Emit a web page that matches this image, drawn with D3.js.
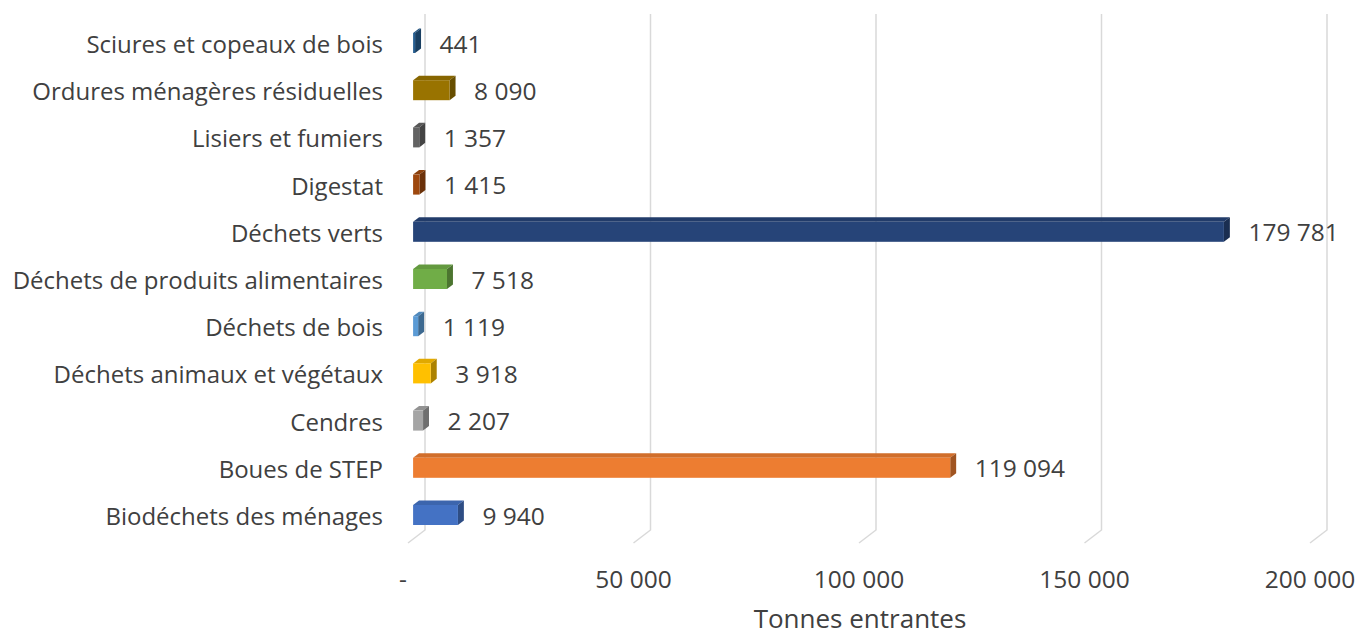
<!DOCTYPE html>
<html>
<head>
<meta charset="utf-8">
<script src="https://cdn.jsdelivr.net/npm/d3@7"></script>
<style>
  html, body { margin: 0; padding: 0; background: #ffffff; }
  svg { display: block; }
  text { font-family: "Open Sans", "Noto Sans", sans-serif; fill: #404040; }
</style>
</head>
<body>
<svg id="chart" width="1359" height="637"></svg>
<script>
// ---------- data ----------
const categories = [
  "Biodéchets des ménages",
  "Boues de STEP",
  "Cendres",
  "Déchets animaux et végétaux",
  "Déchets de bois",
  "Déchets de produits alimentaires",
  "Déchets verts",
  "Digestat",
  "Lisiers et fumiers",
  "Ordures ménagères résiduelles",
  "Sciures et copeaux de bois"
];
const values = [9940, 119094, 2207, 3918, 1119, 7518, 179781, 1415, 1357, 8090, 441];
const barColors = ["#4472C4", "#ED7D31", "#A5A5A5", "#FFC000", "#5B9BD5", "#70AD47",
                   "#264478", "#9E480E", "#636363", "#997300", "#255E91"];
const tickValues = [0, 50000, 100000, 150000, 200000];
const tickLabels = ["-", "50 000", "100 000", "150 000", "200 000"];
const axisTitle = "Tonnes entrantes";

// ---------- layout ----------
const svg = d3.select("#chart");
const fr = d3.formatLocale({decimal: ",", thousands: "\u00a0", grouping: [3], currency: ["", ""]});
const fmt = fr.format(",d");

const wallTop = 14, wallBottom = 530;
const depthDX = -17, depthDY = 13;          // full floor depth (back -> front)
const tFront = 0.7, tBack = 0.35;           // bar depth position

const x = d3.scaleLinear().domain([0, 200000]).range([425, 1327]); // back wall
const y = d3.scaleBand()
  .domain(categories.slice().reverse())
  .range([20.4, 539.6])
  .paddingInner(0.58)
  .paddingOuter(0.29);

// ---------- gridlines (back wall + floor edge) ----------
const grid = svg.append("g");
grid.selectAll("path").data(tickValues).join("path")
  .attr("d", d => `M${x(d)},${wallTop} L${x(d)},${wallBottom} L${x(d) + depthDX},${wallBottom + depthDY}`)
  .attr("fill", "none")
  .attr("stroke", "#D9D9D9")
  .attr("stroke-width", 1.5);

// ---------- tick labels ----------
svg.append("g").selectAll("text").data(tickValues).join("text")
  .attr("x", d => x(d) + depthDX + (d === 0 ? -5 : 0))
  .attr("y", 588)
  .attr("text-anchor", "middle")
  .attr("font-size", 24.5)
  .text((d, i) => tickLabels[i]);

svg.append("text")
  .attr("x", 860)
  .attr("y", 628)
  .attr("text-anchor", "middle")
  .attr("font-size", 26)
  .text(axisTitle);

// ---------- category labels ----------
svg.append("g").selectAll("text").data(categories).join("text")
  .attr("x", 383)
  .attr("y", d => y(d) + y.bandwidth() / 2 + 9)
  .attr("text-anchor", "end")
  .attr("font-size", 24)
  .text(d => d);

// ---------- 3D bars ----------
const fdx = depthDX * tFront, fdy = depthDY * tFront;
const bdx = depthDX * tBack, bdy = depthDY * tBack;
const ox = bdx - fdx, oy = bdy - fdy; // offset front -> back face

const bars = svg.append("g").selectAll("g")
  .data(categories.map((c, i) => ({c, v: values[i], col: barColors[i]})))
  .join("g");

bars.each(function(d) {
  const g = d3.select(this);
  const x0 = x(0) + fdx, x1 = x(d.v) + fdx;
  const cy = y(d.c) + y.bandwidth() / 2 - 1;
  const h = 20;
  const yt = cy - h / 2, yb = cy + h / 2;
  const base = d3.color(d.col);
  // top face
  g.append("path")
    .attr("d", `M${x0},${yt} L${x1},${yt} L${x1 + ox},${yt + oy} L${x0 + ox},${yt + oy} Z`)
    .attr("fill", base.darker(0.35));
  // side face
  g.append("path")
    .attr("d", `M${x1},${yt} L${x1 + ox},${yt + oy} L${x1 + ox},${yb + oy} L${x1},${yb} Z`)
    .attr("fill", base.darker(1.1));
  // front face
  g.append("rect")
    .attr("x", x0).attr("y", yt)
    .attr("width", Math.max(0.6, x1 - x0)).attr("height", h)
    .attr("fill", base);
  // value label
  g.append("text")
    .attr("x", x1 + 24.5)
    .attr("y", cy + 9.5)
    .attr("font-size", 24.5)
    .text(fmt(d.v));
});
</script>
</body>
</html>
